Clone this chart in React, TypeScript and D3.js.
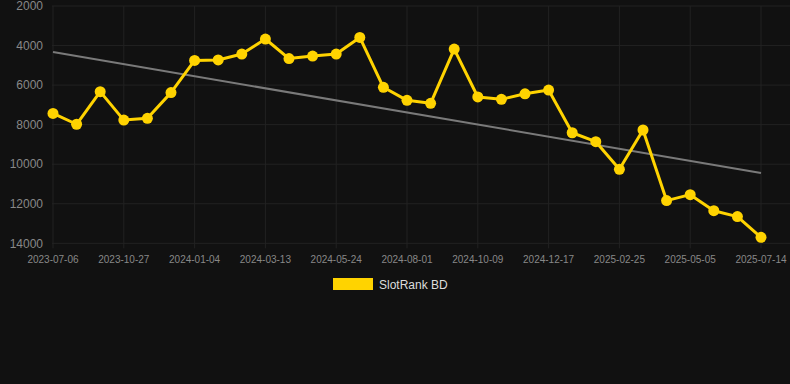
import React from "react";
import * as d3 from "d3";

const dates = [
  "2023-07-06", "2023-08-12", "2023-09-19", "2023-10-27", "2023-11-19", "2023-12-12",
  "2024-01-04", "2024-01-27", "2024-02-19", "2024-03-13", "2024-04-06", "2024-04-30",
  "2024-05-24", "2024-06-16", "2024-07-09", "2024-08-01", "2024-08-24", "2024-09-16",
  "2024-10-09", "2024-11-01", "2024-11-24", "2024-12-17", "2025-01-09", "2025-02-02",
  "2025-02-25", "2025-03-20", "2025-04-12", "2025-05-05", "2025-05-28", "2025-06-21",
  "2025-07-14",
];

const ranks = [
  7430, 7980, 6330, 7770, 7680, 6380, 4750, 4730, 4430, 3670, 4660, 4530,
  4430, 3590, 6110, 6770, 6920, 4180, 6600, 6720, 6440, 6250, 8410, 8860,
  10260, 8270, 11840, 11540, 12350, 12650, 13700,
];

const trendValues = [4330, 10440];
const yTicks = [2000, 4000, 6000, 8000, 10000, 12000, 14000];
const seriesName = "SlotRank BD";

export default function App() {
  const W = 790, H = 384;
  const x = d3.scalePoint<string>().domain(dates).range([53, 761]);
  const y = d3.scaleLinear().domain([2000, 14000]).range([6, 243.3]);
  const line = d3.line<number>().x((_, i) => x(dates[i])!).y((d) => y(d));
  const tickDates = dates.filter((_, i) => i % 3 === 0);
  const font = "Arial, 'Liberation Sans', Helvetica, sans-serif";
  const gold = "#FFD300";

  return (
    <svg width={W} height={H} style={{ position: "absolute", left: 0, top: 0, background: "#111111" }} fontFamily={font}>
      <rect x={0} y={0} width={W} height={H} fill="#111111" />
      {yTicks.map((t) => (
        <g key={t}>
          <line x1={52} x2={W} y1={y(t)} y2={y(t)} stroke="#222222" strokeWidth={1} />
          <text x={43} y={y(t)} dy="0.35em" textAnchor="end" fontSize={12} fill="#888888">{t}</text>
        </g>
      ))}
      {tickDates.map((d) => (
        <g key={d}>
          <line x1={x(d)!} x2={x(d)!} y1={y(2000)} y2={y(14000) + 5} stroke="#222222" strokeWidth={1} />
          <text x={x(d)!} y={263} textAnchor="middle" fontSize={10} fill="#888888">{d}</text>
        </g>
      ))}
      <line
        x1={x(dates[0])!} y1={y(trendValues[0])}
        x2={x(dates[dates.length - 1])!} y2={y(trendValues[1])}
        stroke="#7a7a7a" strokeWidth={2}
      />
      <path d={line(ranks)!} fill="none" stroke={gold} strokeWidth={3} strokeLinejoin="round" />
      {ranks.map((v, i) => (
        <circle key={i} cx={x(dates[i])!} cy={y(v)} r={5.5} fill={gold} />
      ))}
      <rect x={333} y={278} width={40} height={12} fill={gold} />
      <text x={379} y={288.5} fontSize={12} fill="#dddddd">{seriesName}</text>
    </svg>
  );
}
